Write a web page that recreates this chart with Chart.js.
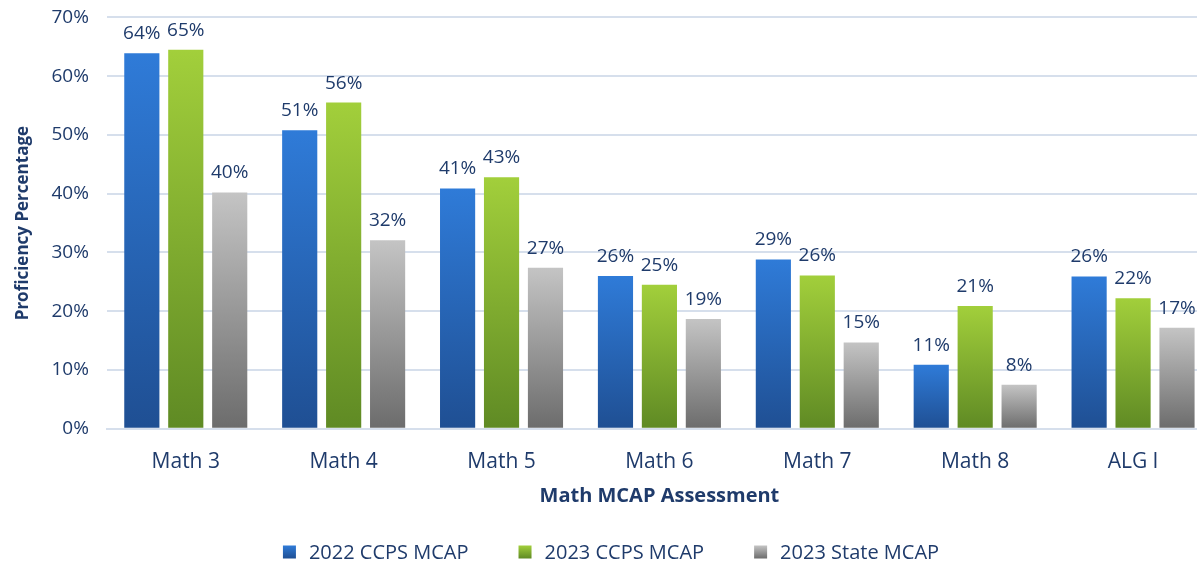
<!DOCTYPE html>
<html>
<head>
<meta charset="utf-8">
<script src="https://cdn.jsdelivr.net/npm/chart.js@4.4.0/dist/chart.umd.min.js"></script>
<style>
  html, body { margin: 0; padding: 0; background: #fff; overflow: hidden; }
  #wrap { width: 1212px; height: 585px; margin-top: -12px; position: relative; }
</style>
</head>
<body>
<div id="wrap"><canvas id="chart"></canvas></div>
<script>
const categories = ['Math 3', 'Math 4', 'Math 5', 'Math 6', 'Math 7', 'Math 8', 'ALG I'];
const seriesNames = ['2022 CCPS MCAP', '2023 CCPS MCAP', '2023 State MCAP'];
const ccps2022 = [63.9, 50.8, 40.9, 26, 28.8, 10.9, 25.9];
const ccps2023 = [64.5, 55.5, 42.8, 24.5, 26.1, 20.9, 22.2];
const state2023 = [40.2, 32.1, 27.4, 18.7, 14.7, 7.5, 17.2];
const yTicks = [0, 10, 20, 30, 40, 50, 60, 70];

const textColor = '#1f3b6b';
const fontFam = '"Open Sans", sans-serif';
const shades = [['#2f7bd8', '#1f4f93'], ['#a2cf3b', '#5f8a24'], ['#c4c4c4', '#6c6c6c']];

function barGradient(top, bottom) {
  return function(ctx) {
    const chart = ctx.chart;
    const y = chart.scales.y;
    if (!chart.chartArea || !y || ctx.raw === undefined) return top;
    const y0 = y.getPixelForValue(ctx.raw);
    const y1 = y.getPixelForValue(0);
    const g = chart.ctx.createLinearGradient(0, y0, 0, y1);
    g.addColorStop(0, top);
    g.addColorStop(1, bottom);
    return g;
  };
}

// percent labels above each bar
const valueLabels = {
  id: 'valueLabels',
  afterDatasetsDraw(chart) {
    const c = chart.ctx;
    c.save();
    c.font = '19px ' + fontFam;
    c.fillStyle = textColor;
    c.textAlign = 'center';
    c.textBaseline = 'bottom';
    chart.data.datasets.forEach((ds, i) => {
      chart.getDatasetMeta(i).data.forEach((bar, j) => {
        c.fillText(Math.round(ds.data[j]) + '%', bar.x, bar.y - 10);
      });
    });
    c.restore();
  }
};

// legend row at the bottom, wider spacing than the built-in one
const bottomLegend = {
  id: 'bottomLegend',
  afterDraw(chart) {
    const c = chart.ctx;
    const box = 13, textGap = 13, itemGap = 50;
    const cy = chart.height - 21;
    c.save();
    c.font = '20px ' + fontFam;
    c.textBaseline = 'middle';
    const widths = chart.data.datasets.map(ds => c.measureText(ds.label).width);
    const total = widths.reduce((a, w) => a + box + textGap + w, 0) + itemGap * (widths.length - 1);
    let x = 611 - total / 2;
    chart.data.datasets.forEach((ds, i) => {
      const g = c.createLinearGradient(0, cy - box / 2, 0, cy + box / 2);
      g.addColorStop(0, shades[i][0]);
      g.addColorStop(1, shades[i][1]);
      c.fillStyle = g;
      c.fillRect(x, cy - box / 2, box, box);
      x += box + textGap;
      c.fillStyle = textColor;
      c.fillText(ds.label, x, cy + 1);
      x += widths[i] + itemGap;
    });
    c.restore();
  }
};

new Chart(document.getElementById('chart'), {
  type: 'bar',
  data: {
    labels: categories,
    datasets: [ccps2022, ccps2023, state2023].map((d, i) => ({
      label: seriesNames[i],
      data: d,
      backgroundColor: barGradient(shades[i][0], shades[i][1])
    }))
  },
  options: {
    responsive: true,
    maintainAspectRatio: false,
    animation: false,
    categoryPercentage: 0.835,
    barPercentage: 0.8,
    layout: { padding: { top: 0, left: 0, right: 0, bottom: 65 } },
    plugins: {
      legend: { display: false },
      tooltip: { enabled: false }
    },
    scales: {
      x: {
        grid: { display: false },
        border: { color: '#d6dfec', width: 2 },
        ticks: {
          color: textColor,
          font: { family: fontFam, size: 21 },
          padding: 13
        },
        title: {
          display: true,
          text: 'Math MCAP Assessment',
          color: textColor,
          font: { family: fontFam, size: 20, weight: 'bold' },
          padding: { top: -4, bottom: 0 }
        }
      },
      y: {
        min: 0,
        max: 70,
        afterBuildTicks(axis) {
          axis.ticks = yTicks.map(v => ({ value: v }));
        },
        grid: { color: '#d6dfec', lineWidth: 2, drawTicks: false },
        border: { display: false },
        ticks: {
          color: textColor,
          font: { family: fontFam, size: 19 },
          padding: 18,
          callback: v => v + '%'
        },
        title: {
          display: true,
          text: 'Proficiency Percentage',
          color: textColor,
          font: { family: fontFam, size: 17, weight: 'bold' },
          padding: { top: 13, bottom: 0 }
        }
      }
    }
  },
  plugins: [valueLabels, bottomLegend]
});
</script>
</body>
</html>
